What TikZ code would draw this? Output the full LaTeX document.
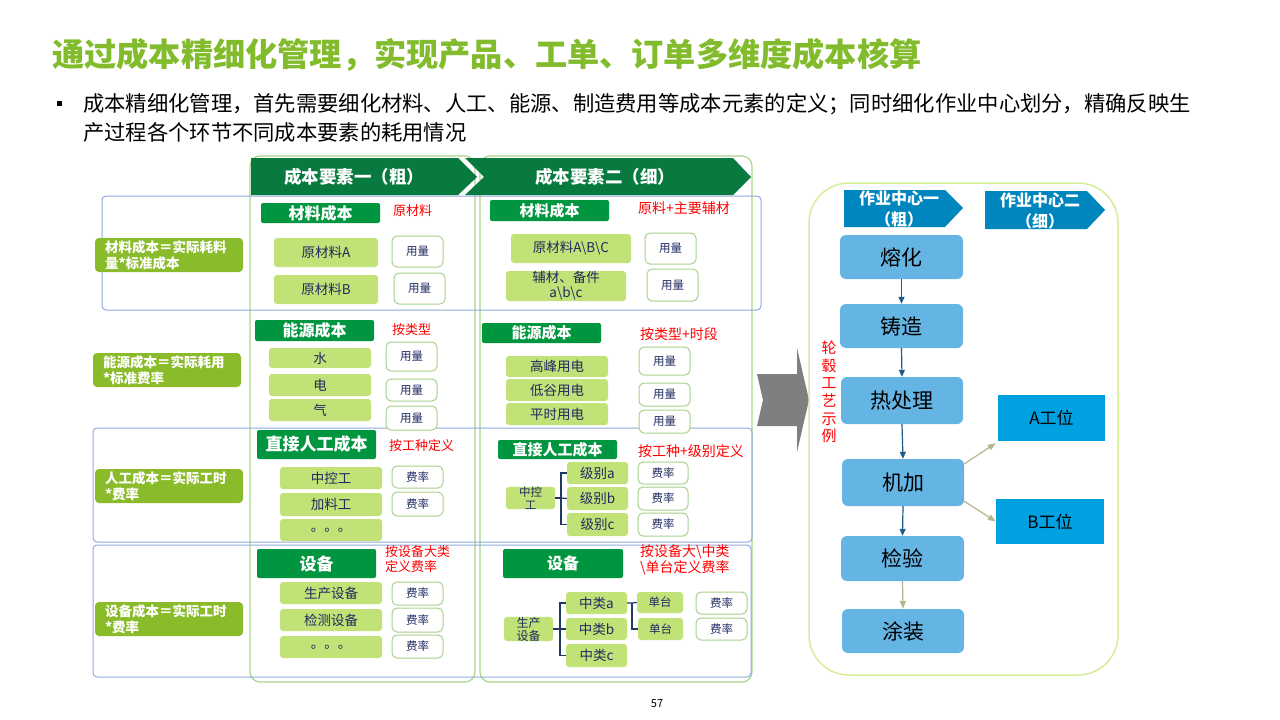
\documentclass[tikz,border=0pt]{standalone}
\usepackage{fontspec}
\setmainfont{Noto Sans CJK SC}
\usetikzlibrary{arrows.meta}
\definecolor{titlegreen}{HTML}{82BC2C}
\definecolor{hdrgreen}{HTML}{087A3F}
\definecolor{itemdg}{HTML}{00963F}
\definecolor{lgreen}{HTML}{C0E276}
\definecolor{navy}{HTML}{1F2A60}
\definecolor{ubord}{HTML}{A8D18D}
\definecolor{colbord}{HTML}{ABD68A}
\definecolor{rowblue}{HTML}{8FAADC}
\definecolor{labgreen}{HTML}{8ABB2A}
\definecolor{procblue}{HTML}{64B4E4}
\definecolor{hblue}{HTML}{0086BE}
\definecolor{wblue}{HTML}{00A1E1}
\definecolor{outerlime}{HTML}{D5EE98}
\definecolor{arrnavy}{HTML}{1F5A86}
\definecolor{khaki}{HTML}{B3B78E}
\definecolor{bignavy}{HTML}{1F3864}
\definecolor{grayarr}{HTML}{7F7F7F}
\newcommand\bx[7]{\node[inner sep=0pt,#2,minimum width={(#5)-(#3)},minimum height={(#6)-(#4)}] (#1) at ({((#3)+(#5))/2},{((#4)+(#6))/2}) {#7};}
\tikzset{
  lg/.style={fill=lgreen, rounded corners=3pt, text=navy, font=\fontsize{13.5}{15}\selectfont, align=center},
  lgs/.style={fill=lgreen, rounded corners=3pt, text=navy, font=\fontsize{11.5}{12.5}\selectfont, align=center},
  dg/.style={fill=itemdg, rounded corners=2pt, text=white, font=\bfseries\fontsize{16}{18}\selectfont},
  dgs/.style={fill=itemdg, rounded corners=2pt, text=white, font=\bfseries\fontsize{15}{17}\selectfont},
  ub/.style={draw=ubord, line width=1pt, fill=white, rounded corners=5pt, text=navy, font=\fontsize{11.5}{13}\selectfont},
  lab/.style={fill=labgreen, rounded corners=4pt, text=white, font=\bfseries\fontsize{13.5}{16}\selectfont, align=left, inner xsep=10pt, text width=128pt},
  rt/.style={anchor=west, inner sep=0pt, text=red, font=\fontsize{13}{15}\selectfont, align=left},
  rt2/.style={anchor=west, inner sep=0pt, text=red, font=\fontsize{14}{15.5}\selectfont, align=left},
  hdr/.style={text=white, inner sep=0pt, font=\bfseries\fontsize{17.5}{20}\selectfont},
  hdr2/.style={text=white, inner sep=0pt, font=\bfseries\fontsize{16}{21}\selectfont, align=center},
  proc/.style={fill=procblue, rounded corners=6pt, text=black, font=\fontsize{21}{24}\selectfont},
  work/.style={fill=wblue, text=black, font=\fontsize{17}{20}\selectfont},
  colbox/.style={draw=colbord, line width=1.2pt, rounded corners=10pt},
  rowbox/.style={draw=rowblue, line width=1pt, rounded corners=4pt},
  br/.style={draw=bignavy, line width=1.2pt},
  parr/.style={-{Triangle[length=7pt,width=6pt]}, draw=arrnavy, line width=1.2pt},
  karr/.style={-{Triangle[length=8pt,width=6pt]}, draw=khaki, line width=1.2pt},
}
\begin{document}
\begin{tikzpicture}[x=1pt,y=-1pt]
\useasboundingbox (0,0) rectangle (1280,720);
\fill[white] (0,0) rectangle (1280,720);

% title and bullet
\node[anchor=west, inner sep=0pt, text=titlegreen, font=\bfseries\fontsize{32.2}{36}\selectfont] (title) at (52,55) {通过成本精细化管理，实现产品、工单、订单多维度成本核算};
\node[fill=black, minimum size=5pt, inner sep=0pt] (bul) at (59,103) {};
\node[anchor=west, inner sep=0pt, align=left, font=\fontsize{21.3}{29}\selectfont] (btxt) at (83,117.5) {成本精细化管理，首先需要细化材料、人工、能源、制造费用等成本元素的定义；同时细化作业中心划分，精确反映生\\产过程各个环节不同成本要素的耗用情况};

% column outer boxes
\draw[colbox] (250,156) rectangle (475,682);
\draw[colbox] (480,156) rectangle (752,682);

% row boxes
\draw[rowbox] (102,196) rectangle (761,310);
\draw[rowbox] (93,428) rectangle (752,542);
\draw[rowbox] (93,545) rectangle (751,677);

% column headers
\fill[hdrgreen] (251,158) -- (458,158) -- (477,177) -- (458,195) -- (251,195) -- cycle;
\node[hdr] (h1) at (354,177) {成本要素一（粗）};
\fill[hdrgreen] (465,158) -- (733,158) -- (751,177) -- (733,195) -- (465,195) -- (484,177) -- cycle;
\node[hdr] (h2) at (605,177) {成本要素二（细）};

% left labels
\bx{l1}{lab}{95}{238}{243}{272}{材料成本＝实际耗料\\量*标准成本}
\bx{l2}{lab}{93}{353}{241}{387}{能源成本＝实际耗用\\\relax *标准费率}
\bx{l3}{lab}{95}{469}{243}{503}{人工成本＝实际工时\\\relax *费率}
\bx{l4}{lab}{95}{602}{243}{636}{设备成本＝实际工时\\\relax *费率}

% column 1
\bx{c1m}{dg}{261}{203}{380}{223}{材料成本}
\node[rt] (c1mr) at (393,211) {原材料};
\bx{c1a}{lg}{274}{238}{378}{267}{原材料A}
\bx{c1au}{ub}{392}{236}{443}{267}{用量}
\bx{c1b}{lg}{274}{275}{378}{304}{原材料B}
\bx{c1bu}{ub}{394}{273}{445}{304}{用量}
\bx{c1e}{dg}{255}{320}{374}{341}{能源成本}
\node[rt] (c1er) at (392,330) {按类型};
\bx{c1w}{lg}{269}{348}{371}{368}{水}
\bx{c1wu}{ub}{386}{342}{437}{371}{用量}
\bx{c1d}{lg}{269}{374}{371}{396}{电}
\bx{c1du}{ub}{386}{379}{437}{401}{用量}
\bx{c1q}{lg}{269}{399}{371}{421}{气}
\bx{c1qu}{ub}{386}{406}{437}{430}{用量}
\bx{c1l}{dg,font=\bfseries\fontsize{17}{19}\selectfont}{257}{430}{376}{459}{直接人工成本}
\node[rt] (c1lr) at (389,446) {按工种定义};
\bx{c1l1}{lg}{280}{467}{382}{489}{中控工}
\bx{c1l1u}{ub}{392}{466}{443}{488}{费率}
\bx{c1l2}{lg}{280}{493}{382}{516}{加料工}
\bx{c1l2u}{ub}{392}{492}{443}{516}{费率}
\bx{c1l3}{lg}{280}{519}{382}{541}{。。。}
\bx{c1s}{dg,font=\bfseries\fontsize{17}{19}\selectfont}{257}{549}{376}{578}{设备}
\node[rt] (c1sr) at (385,559.5) {按设备大类\\定义费率};
\bx{c1s1}{lg}{280}{582}{382}{604}{生产设备}
\bx{c1s1u}{ub}{392}{582}{443}{605}{费率}
\bx{c1s2}{lg}{280}{609}{382}{631}{检测设备}
\bx{c1s2u}{ub}{392}{608}{443}{632}{费率}
\bx{c1s3}{lg}{280}{636}{382}{658}{。。。}
\bx{c1s3u}{ub}{392}{635}{443}{658}{费率}

% column 2
\bx{c2m}{dgs}{490}{200}{609}{221}{材料成本}
\node[rt2] (c2mr) at (638,208) {原料+主要辅材};
\bx{c2a}{lg}{511}{234}{631}{263}{原材料A\textbackslash B\textbackslash C}
\bx{c2au}{ub}{645}{233}{696}{264}{用量}
\bx{c2b}{lg}{506}{271}{626}{301}{辅材、备件\\a\textbackslash b\textbackslash c}
\bx{c2bu}{ub}{647}{269}{698}{301}{用量}
\bx{c2e}{dgs}{482}{323}{601}{343}{能源成本}
\node[rt2] (c2er) at (640,334) {按类型+时段};
\bx{c2e1}{lg}{506}{356}{608}{377}{高峰用电}
\bx{c2e1u}{ub}{639}{347}{690}{375}{用量}
\bx{c2e2}{lg}{506}{379}{608}{401}{低谷用电}
\bx{c2e2u}{ub}{639}{383}{690}{406}{用量}
\bx{c2e3}{lg}{506}{403}{608}{425}{平时用电}
\bx{c2e3u}{ub}{639}{410}{690}{433}{用量}
\bx{c2l}{dgs}{498}{440}{617}{459}{直接人工成本}
\node[rt2] (c2lr) at (638,451) {按工种+级别定义};
\bx{c2z}{lgs}{506}{487}{555}{509}{中控\\工}
\bx{c2ja}{lg}{567}{462}{628}{484}{级别a}
\bx{c2jb}{lg}{567}{487}{628}{510}{级别b}
\bx{c2jc}{lg}{567}{513}{628}{536}{级别c}
\bx{c2jau}{ub}{638}{462}{688}{484}{费率}
\bx{c2jbu}{ub}{638}{487}{688}{510}{费率}
\bx{c2jcu}{ub}{638}{513}{688}{536}{费率}
\coordinate (bk1) at (561,498);
\draw[br] (c2z.east) -- (bk1);
\draw[br] (bk1) |- (c2ja.west);
\draw[br] (bk1) -- (c2jb.west);
\draw[br] (bk1) |- (c2jc.west);
\bx{c2s}{dgs,font=\bfseries\fontsize{16}{18}\selectfont}{503}{549}{623}{578}{设备}
\node[rt2] (c2sr) at (640,560) {按设备大\textbackslash 中类\\\textbackslash 单台定义费率};
\bx{c2p}{lgs,font=\fontsize{12}{13}\selectfont}{504}{618}{553}{640}{生产\\设备}
\bx{c2ca}{lg}{566}{592}{627}{614}{中类a}
\bx{c2cb}{lg}{566}{618}{627}{640}{中类b}
\bx{c2cc}{lg}{566}{644}{627}{667}{中类c}
\coordinate (bk2) at (560,629);
\draw[br] (c2p.east) -- (bk2);
\draw[br] (bk2) |- (c2ca.west);
\draw[br] (bk2) -- (c2cb.west);
\draw[br] (bk2) |- (c2cc.west);
\bx{c2d1}{lgs}{637}{592}{683}{613}{单台}
\bx{c2d2}{lgs}{638}{618}{683}{640}{单台}
\coordinate (bk3) at (632,603);
\draw[br] (c2ca.east) -- (bk3) -- (c2d1.west);
\draw[br] (bk3) |- (c2d2.west);
\bx{c2d1u}{ub}{696}{592}{747}{614}{费率}
\bx{c2d2u}{ub}{696}{618}{747}{640}{费率}

% big gray arrow
\fill[grayarr] (757,374) -- (797,374) -- (797,348) -- (809,400) -- (797,452) -- (797,426) -- (757,426) -- (763,400) -- cycle;

% right section
\draw[outerlime, line width=1.5pt, rounded corners=40pt] (809,183) rectangle (1118,675);
\fill[hblue] (844,190) -- (945,190) -- (963,208) -- (945,227) -- (844,227) -- cycle;
\node[hdr2] (wc1) at (899,208.5) {作业中心一\\（粗）};
\fill[hblue] (985,191) -- (1087,191) -- (1105,210) -- (1087,229) -- (985,229) -- cycle;
\node[hdr2] (wc2) at (1040,211) {作业中心二\\（细）};

\node[text=red, inner sep=0pt, align=center, font=\fontsize{15}{17.6}\selectfont] (vt) at (829,392) {轮\\毂\\工\\艺\\示\\例};

\bx{p1}{proc}{840}{235}{963}{279}{熔化}
\bx{p2}{proc}{840}{304}{963}{348}{铸造}
\bx{p3}{proc}{841}{377}{963}{424}{热处理}
\bx{p4}{proc}{842}{459}{964}{506}{机加}
\bx{p5}{proc}{841}{536}{964}{581}{检验}
\bx{p6}{proc}{842}{609}{964}{653}{涂装}
\bx{wa}{work}{998}{395}{1105}{441}{A工位}
\bx{wb}{work}{996}{499}{1104}{544}{B工位}

\draw[parr] (p1.south) -- (p2.north);
\draw[parr] (p2.south) -- (p3.north);
\draw[parr] (p3.south) -- (p4.north);
\draw[parr] (p4.south) -- (p5.north);
\draw[karr] (p5.south) -- (p6.north);
\draw[karr] ([yshift=-5pt]p4.north east) -- ([xshift=-2pt,yshift=-2pt]wa.south west);
\draw[karr] ([yshift=5pt]p4.south east) -- (wb.west);

\node[inner sep=0pt, font=\fontsize{11}{13}\selectfont] (pg) at (657,704) {57};
\end{tikzpicture}
\end{document}
